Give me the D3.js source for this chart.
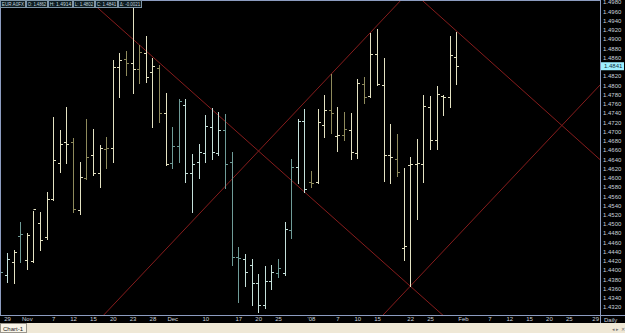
<!DOCTYPE html>
<html><head><meta charset="utf-8">
<script src="https://cdn.jsdelivr.net/npm/d3@7"></script>
<style>
html,body{margin:0;padding:0;background:#000;overflow:hidden}
svg{display:block}
text{font-family:"Liberation Sans",Arial,sans-serif}
</style></head>
<body>
<script>
// ---------- data ----------
// bar index (trading days from Oct 26 2007), prices
const opens  = [1.4387,1.4389,1.4417,1.4474,1.4422,1.4420,1.4502,1.4471,1.4554,1.4632,1.4677,1.4677,1.4530,1.4599,1.4649,1.4610,1.4662,1.4664,1.4839,1.4857,1.4848,1.4835,1.4870,1.4829,1.4837,1.4740,1.4632,1.4668,1.4757,1.4610,1.4634,1.4653,1.4710,1.4653,1.4703,1.4634,1.4428,1.4424,1.4411,1.4372,1.4324,1.4376,1.4394,1.4394,1.4487,1.4623,1.4722,1.4590,1.4590,1.4714,1.4746,1.4690,1.4692,1.4703,1.4653,1.4803,1.4777,1.4867,1.4800,1.4649,1.4640,1.4448,1.4627,1.4629,1.4629,1.4753,1.4681,1.4777,1.4774,1.4862];
const highs  = [1.4411,1.4437,1.4443,1.4504,1.4480,1.4528,1.4526,1.4569,1.4731,1.4703,1.4753,1.4686,1.4634,1.4727,1.4705,1.4671,1.4688,1.4854,1.4870,1.4874,1.4978,1.4887,1.4906,1.4859,1.4844,1.4783,1.4710,1.4770,1.4770,1.4651,1.4673,1.4735,1.4751,1.4742,1.4738,1.4655,1.4450,1.4435,1.4424,1.4391,1.4409,1.4411,1.4424,1.4504,1.4640,1.4727,1.4748,1.4614,1.4748,1.4779,1.4824,1.4753,1.4742,1.4740,1.4813,1.4818,1.4913,1.4922,1.4859,1.4716,1.4694,1.4621,1.4645,1.4684,1.4779,1.4777,1.4798,1.4779,1.4906,1.4914];
const lows   = [1.4378,1.4374,1.4372,1.4417,1.4402,1.4417,1.4443,1.4467,1.4552,1.4612,1.4632,1.4526,1.4521,1.4597,1.4606,1.4580,1.4621,1.4634,1.4774,1.4822,1.4783,1.4805,1.4807,1.4710,1.4720,1.4627,1.4621,1.4634,1.4590,1.4526,1.4599,1.4634,1.4640,1.4649,1.4578,1.4411,1.4331,1.4365,1.4324,1.4309,1.4318,1.4359,1.4385,1.4389,1.4469,1.4588,1.4569,1.4580,1.4588,1.4688,1.4697,1.4658,1.4681,1.4640,1.4642,1.4761,1.4774,1.4800,1.4593,1.4588,1.4603,1.4422,1.4365,1.4510,1.4590,1.4662,1.4662,1.4735,1.4753,1.4802];
const closes = [1.4396,1.4424,1.4439,1.4478,1.4476,1.4533,1.4465,1.4554,1.4638,1.4673,1.4673,1.4532,1.4601,1.4645,1.4610,1.4664,1.4664,1.4839,1.4854,1.4848,1.4835,1.4872,1.4818,1.4842,1.4740,1.4629,1.4668,1.4766,1.4610,1.4629,1.4655,1.4712,1.4655,1.4703,1.4629,1.4428,1.4426,1.4396,1.4372,1.4324,1.4376,1.4396,1.4404,1.4489,1.4623,1.4722,1.4575,1.4588,1.4720,1.4746,1.4740,1.4692,1.4705,1.4655,1.4805,1.4774,1.4867,1.4803,1.4649,1.4645,1.4612,1.4452,1.4629,1.4632,1.4755,1.4681,1.4781,1.4774,1.4865,1.4841];
// bar shade class as drawn by the platform
const tones  = ["T","t","n","T","n","n","n","n","n","n","n","O","n","O","n","n","O","n","n","O","n","O","n","n","O","n","T","T","t","t","t","t","t","t","T","T","T","t","t","t","t","t","T","t","T","t","t","O","n","n","O","n","O","n","n","O","n","n","n","n","O","n","n","n","n","n","n","n","n","n"];

// x-axis tick labels (bar index positions)
const xTickIdx    = [1,4,8,11,14,17,20,23,26,31,36,39,42,47,51,54,57,62,65,70,74,77,80,83,86,90];
const xTickLabels = ["29","Nov","7","12","15","20","23","28","Dec","10","17","20","25","'08","7","10","15","22","25","Feb","7","12","15","20","25","29"];

// price-axis tick labels
const yTicks = [1.4980,1.4960,1.4940,1.4920,1.4900,1.4880,1.4860,1.4820,1.4800,1.4780,1.4760,1.4740,1.4720,1.4700,1.4680,1.4660,1.4640,1.4620,1.4600,1.4580,1.4560,1.4540,1.4520,1.4500,1.4480,1.4460,1.4440,1.4420,1.4400,1.4380,1.4360,1.4340,1.4320];
const lastPrice = 1.4841;

// fan / channel lines: [idx1, price1, idx2, price2]
const fanLines = [
  [12, 1.5002, 72, 1.4238],
  [15, 1.4293, 62, 1.5005],
  [62, 1.5007, 94, 1.4597],
  [57, 1.4289, 94, 1.4850]
];

const headerTexts = ["EUR A0FX","O: 1.4862","H: 1.4914","L: 1.4802","C: 1.4841","Δ: -0.0021"];

// ---------- drawing ----------
const W = 625, H = 333;
const plotR = 600, plotB = 315;
const svg = d3.select("body").append("svg").attr("width", W).attr("height", H);
svg.append("rect").attr("width", W).attr("height", H).attr("fill", "#000");

const x = d3.scaleLinear().domain([0, 90]).range([0.4, 595.2]);
const y = d3.scaleLinear().domain([1.4980, 1.4320]).range([2, 307]);

const defs = svg.append("defs");
defs.append("clipPath").attr("id", "plotclip").append("rect")
  .attr("x", 0).attr("y", 0).attr("width", plotR).attr("height", plotB);

const plot = svg.append("g").attr("clip-path", "url(#plotclip)");

// red lines
const lineCol = "#861c1c";
plot.selectAll("line.fan").data(fanLines).join("line")
  .attr("class", "fan")
  .attr("x1", d => x(d[0])).attr("y1", d => y(d[1]))
  .attr("x2", d => x(d[2])).attr("y2", d => y(d[3]))
  .attr("stroke", lineCol).attr("stroke-width", 1);

// bars
const toneColor = d3.scaleOrdinal().domain(["n","O","t","T"])
  .range(["#e4e2c2","#8e8a5c","#c4e0da","#6f9c98"]);
const bars = d3.range(opens.length).map(i => ({i, o: opens[i], h: highs[i], l: lows[i], c: closes[i], t: tones[i]}));
const bg = plot.selectAll("g.bar").data(bars).join("g").attr("class", "bar")
  .attr("stroke", d => toneColor(d.t)).attr("stroke-width", 1);
const px = d => Math.round(x(d.i)) + 0.5;
bg.append("line").attr("x1", px).attr("x2", px)
  .attr("y1", d => Math.round(y(d.h))).attr("y2", d => Math.round(y(d.l)) + 1);
bg.append("line").attr("x1", d => px(d) - 2.5).attr("x2", d => px(d))
  .attr("y1", d => Math.round(y(d.o)) + 0.5).attr("y2", d => Math.round(y(d.o)) + 0.5);
bg.append("line").attr("x1", d => px(d)).attr("x2", d => px(d) + 2.5)
  .attr("y1", d => Math.round(y(d.c)) + 0.5).attr("y2", d => Math.round(y(d.c)) + 0.5);

// frame
const frameCol = "#8c9cc0";
svg.append("line").attr("x1", 0).attr("x2", plotR).attr("y1", 0.5).attr("y2", 0.5).attr("stroke", frameCol);
svg.append("line").attr("x1", 0.5).attr("x2", 0.5).attr("y1", 0).attr("y2", plotB).attr("stroke", frameCol);
svg.append("line").attr("x1", 0).attr("x2", W).attr("y1", plotB + 0.5).attr("y2", plotB + 0.5).attr("stroke", frameCol);
svg.append("line").attr("x1", plotR + 0.5).attr("x2", plotR + 0.5).attr("y1", 0).attr("y2", plotB + 8).attr("stroke", frameCol);

// y axis
const axisCol = "#c8d0dc";
const ya = svg.append("g").attr("transform", `translate(${plotR + 1},0)`)
  .call(d3.axisRight(y).tickValues(yTicks).tickFormat(d3.format(".4f")).tickSize(0).tickPadding(2));
ya.select(".domain").remove();
ya.selectAll("text").attr("fill", axisCol).attr("font-size", 6).attr("font-family", "Liberation Sans, Arial, sans-serif");

// last price marker
const lp = svg.append("g").attr("transform", `translate(${plotR + 1},${y(lastPrice)})`);
lp.append("rect").attr("x", 0).attr("y", -4).attr("width", 23).attr("height", 8).attr("fill", "#9ff0ff");
lp.append("text").attr("x", 3).attr("y", 0).attr("dy", "0.35em").attr("font-size", 6).attr("fill", "#103040")
  .text(d3.format(".4f")(lastPrice));

// x axis
const xa = svg.append("g").attr("transform", `translate(0,${plotB})`)
  .call(d3.axisBottom(x).tickValues(xTickIdx).tickFormat((d, k) => xTickLabels[k]).tickSize(0).tickPadding(1.5));
xa.select(".domain").remove();
xa.selectAll("text").attr("fill", axisCol).attr("font-size", 6).attr("font-family", "Liberation Sans, Arial, sans-serif");
svg.append("text").attr("x", 604).attr("y", 321.5).attr("font-size", 6).attr("fill", axisCol).text("Daily");

// header boxes
let hx = 0;
const hg = svg.append("g");
const headerW = [26, 22, 25, 22, 23, 24];
headerTexts.forEach((t, k) => {
  hg.append("rect").attr("x", hx + 0.5).attr("y", 0.5).attr("width", headerW[k] - 1).attr("height", 7)
    .attr("fill", "#0d1c22").attr("stroke", "#7f96a8").attr("stroke-width", 1);
  hg.append("text").attr("x", hx + 1.8).attr("y", 6).attr("font-size", 5).attr("fill", "#c0d4de")
    .attr("textLength", headerW[k] - 3.6).attr("lengthAdjust", "spacingAndGlyphs").text(t);
  hx += headerW[k];
});

// bottom tab strip
svg.append("rect").attr("x", 0).attr("y", 323).attr("width", W).attr("height", 10).attr("fill", "#efe8d6");
svg.append("rect").attr("x", 0.5).attr("y", 323.5).attr("width", 26).attr("height", 9).attr("fill", "#f8f4e8").attr("stroke", "#9a968c");
svg.append("text").attr("x", 3).attr("y", 330.5).attr("font-size", 6).attr("fill", "#222").text("Chart-1");
svg.append("text").attr("x", 612).attr("y", 331).attr("font-size", 5).attr("fill", "#777").text("◂ ▸ ✕");
</script>
</body></html>
